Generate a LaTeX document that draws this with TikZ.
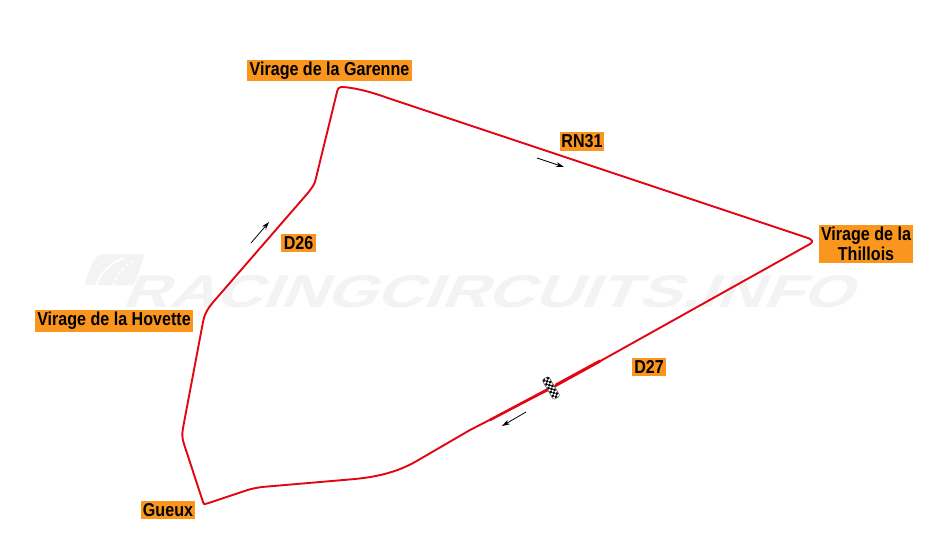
\documentclass[tikz,border=0pt]{standalone}
\usepackage{fontspec}
\setmainfont{Liberation Sans}
\newfontfamily\lblfont[FakeStretch=0.86]{Liberation Sans Bold}
\newfontfamily\wmfont[FakeStretch=1.40]{Liberation Sans Bold}
\usetikzlibrary{arrows.meta}
\definecolor{trackred}{RGB}{226,6,19}
\definecolor{lblorange}{RGB}{250,150,30}
\definecolor{wmgrey}{RGB}{243,243,243}
\tikzset{
  lbl/.style={fill=lblorange,inner sep=0pt,align=center,font=\lblfont\fontsize{18.7}{20}\selectfont,text=black},
  track/.style={draw=trackred,line width=1.9pt,line join=round,line cap=round},
  dirarrow/.style={draw=black,line width=0.8pt,-{Stealth[length=8pt,width=5pt]}},
  wm/.style={text=wmgrey,inner sep=0pt,font=\wmfont\fontsize{46}{46}\selectfont}
}
\begin{document}
\begin{tikzpicture}[x=1pt,y=-1pt]
\useasboundingbox (0,0) rectangle (938,555);
\fill[white] (0,0) rectangle (938,555);
% watermark
\node[wm,xslant=0.45] (wmark) at (494,291.5) {RACINGCIRCUITS.INFO};
\fill[wmgrey,rounded corners=3pt] (85,283) .. controls (90,268) and (95,254) .. (106,254) -- (145,254) -- (134,285) -- (86,285) -- cycle;
\draw[white,line width=2pt] (96,286) .. controls (100,274) and (108,264) .. (124,258);
\draw[white,line width=2pt,dashed] (113,286) .. controls (116,276) and (122,266) .. (136,260);
% track
\path[track] (552,388) -- (470,430) -- (415,462)
  .. controls (395,473) and (375,477) .. (355,479)
  -- (262,487) .. controls (255,488) and (250,489) .. (243,491.5)
  -- (207,503.5) .. controls (204,504.5) and (203,504) .. (203,502)
  -- (184,444) .. controls (182,438) and (182,434) .. (183,428)
  -- (203,322) .. controls (205,312) and (209,307) .. (215,300)
  -- (307,194) .. controls (312,188) and (315,184) .. (316,178)
  -- (337,92) .. controls (338,88) and (339,87) .. (343,87)
  .. controls (355,88) and (368,91) .. (385,97)
  -- (808,238) .. controls (813,240) and (813,242) .. (810,244)
  -- (604,359) -- cycle;
\draw[trackred,line width=2.5pt,line cap=round] (490,420) -- (552,387);
\draw[trackred,line width=3pt,line cap=round] (556,385) -- (600,361);
% start-finish flag
\begin{scope}[shift={(551,388)},rotate=30]
  \fill[white,rounded corners=1.5pt,draw=black,line width=0.3pt] (-3.8,-11.5) rectangle (3.8,11.5);
  \foreach \i in {0,...,9}{
    \foreach \j in {0,1,2}{
      \pgfmathparse{int(mod(\i+\j,2))}
      \ifnum\pgfmathresult=0
        \fill[black] ({-3.3+\j*2.2},{-11+\i*2.2}) rectangle +(2.2,2.2);
      \fi
    }
  }
\end{scope}
% direction arrows
\coordinate (a1s) at (537,158); \coordinate (a1e) at (564,167);
\coordinate (a2s) at (251,243); \coordinate (a2e) at (269,222);
\coordinate (a3s) at (526,412); \coordinate (a3e) at (502,426);
\draw[dirarrow] (a1s) -- (a1e);
\draw[dirarrow] (a2s) -- (a2e);
\draw[dirarrow] (a3s) -- (a3e);
% labels
\node[lbl,minimum width=165pt,minimum height=21pt] (garenne) at (329.5,70.5) {Virage de la Garenne};
\node[lbl,minimum width=44pt,minimum height=19pt] (rn) at (582,141.5) {RN31};
\node[lbl,minimum width=35pt,minimum height=18pt] (dtwosix) at (298.5,243) {D26};
\node[lbl,minimum width=158pt,minimum height=22pt] (hovette) at (114,321) {Virage de la Hovette};
\node[lbl,minimum width=54pt,minimum height=18pt] (gueux) at (168,510) {Gueux};
\node[lbl,minimum width=94pt,minimum height=38pt] (thillois) at (866,244) {Virage de la\\Thillois};
\node[lbl,minimum width=34pt,minimum height=18pt] (dtwoseven) at (649,367) {D27};
\end{tikzpicture}
\end{document}
